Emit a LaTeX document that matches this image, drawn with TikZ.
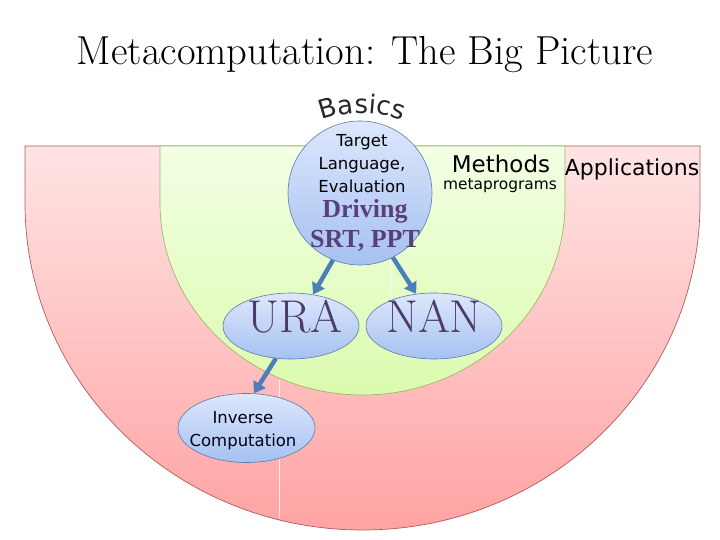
\documentclass[tikz,border=0pt]{standalone}
\usepackage{fontspec}
\setsansfont{DejaVu Sans}
\newfontfamily\drivefont{Liberation Serif}
\usetikzlibrary{arrows.meta, shapes.geometric, decorations.text}

\definecolor{apptop}{HTML}{FFE4E4}
\definecolor{appbot}{HTML}{FFA3A3}
\definecolor{appedge}{HTML}{B05A5A}
\definecolor{methtop}{HTML}{F2FFE4}
\definecolor{methbot}{HTML}{DCFBAE}
\definecolor{methedge}{HTML}{A4B46C}
\definecolor{bubtop}{HTML}{DDE7FB}
\definecolor{bubbot}{HTML}{A6C1F2}
\definecolor{bubedge}{HTML}{5A7BAE}
\definecolor{linkblue}{HTML}{4C7EBA}
\definecolor{drvpurple}{HTML}{5A4079}
\definecolor{namepurple}{HTML}{4B3A6A}

\begin{document}
\begin{tikzpicture}[x=1pt, y=1pt,
    >=Triangle,
    zone/.style={line width=0.7pt},
    bubble/.style={draw=bubedge, line width=0.6pt, top color=bubtop, bottom color=bubbot, inner sep=0pt},
    oval/.style={bubble, ellipse, minimum width=136pt, minimum height=66pt},
    link/.style={line width=4.5pt, linkblue, -{Triangle[length=11pt,width=14pt]}},
    seam/.style={white, line width=0.8pt, opacity=0.8},
    sans/.style={font=\sffamily\fontsize{16.5}{23}\selectfont, inner sep=0pt, align=center},
    bigname/.style={font=\fontsize{46}{46}\selectfont, text=namepurple, inner sep=0pt, anchor=base},
    heading/.style={font=\sffamily\fontsize{#1}{#1}\selectfont, inner sep=0pt, anchor=base}
  ]
  \useasboundingbox (0,0) rectangle (720,540);

  \shade[zone, draw=appedge, top color=apptop, bottom color=appbot]
    (25,394) -- (25,337) arc[start angle=180, end angle=360, x radius=337.5, y radius=327] -- (700,394) -- cycle;
  \shade[zone, draw=methedge, top color=methtop, bottom color=methbot]
    (160,394) -- (160,337) arc[start angle=180, end angle=360, x radius=202.5, y radius=192] -- (565,394) -- cycle;
  \draw[seam] (390,285) -- (390,245);
  \draw[seam] (279,160) -- (279,22);

  \node[font=\fontsize{40.5}{40.5}\selectfont, inner sep=0pt, anchor=base] (title) at (365,475) {Metacomputation: The Big Picture};

  \node[bubble, circle, minimum size=144pt] (basics) at (360,347) {};
  \path[decorate, decoration={text along path, text align=center, text color=black!85,
      text={|\sffamily\fontsize{26}{26}\selectfont|Basics}}]
    (362,312) ++(118:115) arc[start angle=118, end angle=62, radius=115];
  \node[sans] (tle) at (362,376) {Target\\Language,\\Evaluation};
  \node[font=\drivefont\bfseries\fontsize{26}{30}\selectfont, text=drvpurple, inner sep=0pt, align=center] (drv) at (365,315) {Driving\\SRT, PPT};

  \node[heading=23] (methods) at (501,367) {Methods};
  \node[heading=15.4] (metaprog) at (500,350) {metaprograms};
  \node[heading=22] (apps) at (632,364) {Applications};

  \node[oval] (ura) at (291,214) {};
  \node[oval] (nan) at (434,214) {};
  \node[bigname] (uralbl) at (295,207) {URA};
  \node[bigname] (nanlbl) at (434,207) {NAN};

  \node[oval, minimum width=137pt, minimum height=69pt] (inv) at (246.5,112) {};
  \node[sans, text=black!90!blue] (invlbl) at (243,109) {Inverse\\Computation};

  \draw[link] (basics.248) -- (ura.55);
  \draw[link] (basics.297) -- (nan.119);
  \draw[link] (ura.245) -- (inv.78);
\end{tikzpicture}
\end{document}
